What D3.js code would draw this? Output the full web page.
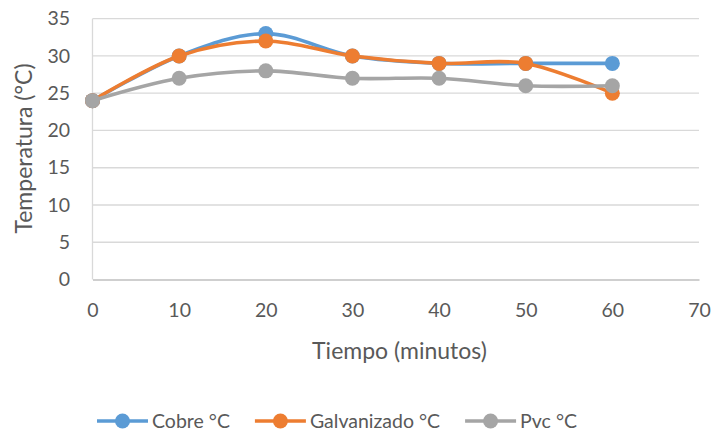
<!DOCTYPE html>
<html>
<head>
<meta charset="utf-8">
<script src="https://cdn.jsdelivr.net/npm/d3@7"></script>
<style>
  html, body { margin: 0; padding: 0; background: #fff; }
  svg { display: block; font-family: Lato, "Open Sans", sans-serif; }
</style>
</head>
<body>
<svg id="chart" width="714" height="431"></svg>
<script>
// Temperature readings (°C) every 10 minutes for three pipe materials
const minutes = [0, 10, 20, 30, 40, 50, 60];
const cobre = [24, 30, 33, 30, 29, 29, 29];
const galvanizado = [24, 30, 32, 30, 29, 29, 25];
const pvc = [24, 27, 28, 27, 27, 26, 26];

const seriesNames = ["Cobre °C", "Galvanizado °C", "Pvc °C"];
const seriesColors = ["#5B9BD5", "#ED7D31", "#A5A5A5"];
const xTicks = [0, 10, 20, 30, 40, 50, 60, 70];
const yTicks = [0, 5, 10, 15, 20, 25, 30, 35];

const series = [cobre, galvanizado, pvc].map((vals, i) => ({
  name: seriesNames[i],
  color: seriesColors[i],
  points: vals.map((v, j) => ({ x: minutes[j], y: v }))
}));

const svg = d3.select("#chart");
const textColor = "#595959";

const plot = { left: 92.5, right: 699, top: 18.7, bottom: 279.5 };
const x = d3.scaleLinear().domain([0, 70]).range([plot.left, plot.right]);
const y = d3.scaleLinear().domain([0, 35]).range([plot.bottom, plot.top]);

// horizontal gridlines
svg.append("g")
  .selectAll("line")
  .data(yTicks.filter(t => t > 0))
  .join("line")
  .attr("x1", plot.left).attr("x2", plot.right)
  .attr("y1", d => y(d)).attr("y2", d => y(d))
  .attr("stroke", "#d9d9d9").attr("stroke-width", 1.3);

// y axis line
svg.append("line")
  .attr("x1", plot.left).attr("x2", plot.left)
  .attr("y1", plot.top).attr("y2", plot.bottom)
  .attr("stroke", "#d9d9d9").attr("stroke-width", 1.3);

// x axis
const xAxis = svg.append("g")
  .attr("transform", `translate(0,${plot.bottom})`)
  .call(d3.axisBottom(x).tickValues(xTicks).tickSize(0).tickPadding(24));
xAxis.select(".domain").attr("stroke", "#bfbfbf").attr("stroke-width", 1.5);
xAxis.selectAll("text").attr("fill", textColor).attr("font-size", 19.5)
  .attr("font-family", "Lato, sans-serif");

// y axis labels
const yAxis = svg.append("g")
  .attr("transform", `translate(70,0)`)
  .call(d3.axisLeft(y).tickValues(yTicks).tickSize(0).tickPadding(0));
yAxis.select(".domain").remove();
yAxis.selectAll("text").attr("fill", textColor).attr("font-size", 19.5)
  .attr("font-family", "Lato, sans-serif");

// axis titles
svg.append("text")
  .attr("x", 399.5).attr("y", 359)
  .attr("text-anchor", "middle")
  .attr("fill", textColor).attr("font-size", 23)
  .text("Tiempo (minutos)");

svg.append("text")
  .attr("transform", "translate(32,148.5) rotate(-90)")
  .attr("text-anchor", "middle")
  .attr("fill", textColor).attr("font-size", 23)
  .text("Temperatura (°C)");

// smoothed lines and markers
const line = d3.line()
  .x(d => x(d.x)).y(d => y(d.y))
  .curve(d3.curveCardinal.tension(0));

const sg = svg.append("g").selectAll("g").data(series).join("g");
sg.append("path")
  .attr("d", d => line(d.points))
  .attr("fill", "none")
  .attr("stroke", d => d.color)
  .attr("stroke-width", 3.6)
  .attr("stroke-linecap", "round");
sg.each(function (s) {
  d3.select(this).selectAll("circle")
    .data(s.points)
    .join("circle")
    .attr("cx", d => x(d.x)).attr("cy", d => y(d.y))
    .attr("r", 7.5)
    .attr("fill", s.color);
});

// legend
const legend = svg.append("g").attr("transform", "translate(0,421)");
const items = legend.selectAll("g").data(series).join("g");
items.append("line")
  .attr("x1", 0).attr("x2", 51).attr("y1", 0).attr("y2", 0)
  .attr("stroke", d => d.color).attr("stroke-width", 3.6);
items.append("circle")
  .attr("cx", 25.5).attr("cy", 0).attr("r", 7.5)
  .attr("fill", d => d.color);
items.append("text")
  .attr("x", 55).attr("y", 0).attr("dy", "0.35em")
  .attr("fill", textColor).attr("font-size", 19.5)
  .text(d => d.name);

let cursor = 0;
const gap = 25;
const widths = [];
items.each(function () {
  const w = this.getBBox().width;
  widths.push(w);
});
const total = d3.sum(widths) + gap * (widths.length - 1);
cursor = 337 - total / 2;
items.attr("transform", (d, i) => {
  const tx = cursor;
  cursor += widths[i] + gap;
  return `translate(${tx},0)`;
});
</script>
</body>
</html>
